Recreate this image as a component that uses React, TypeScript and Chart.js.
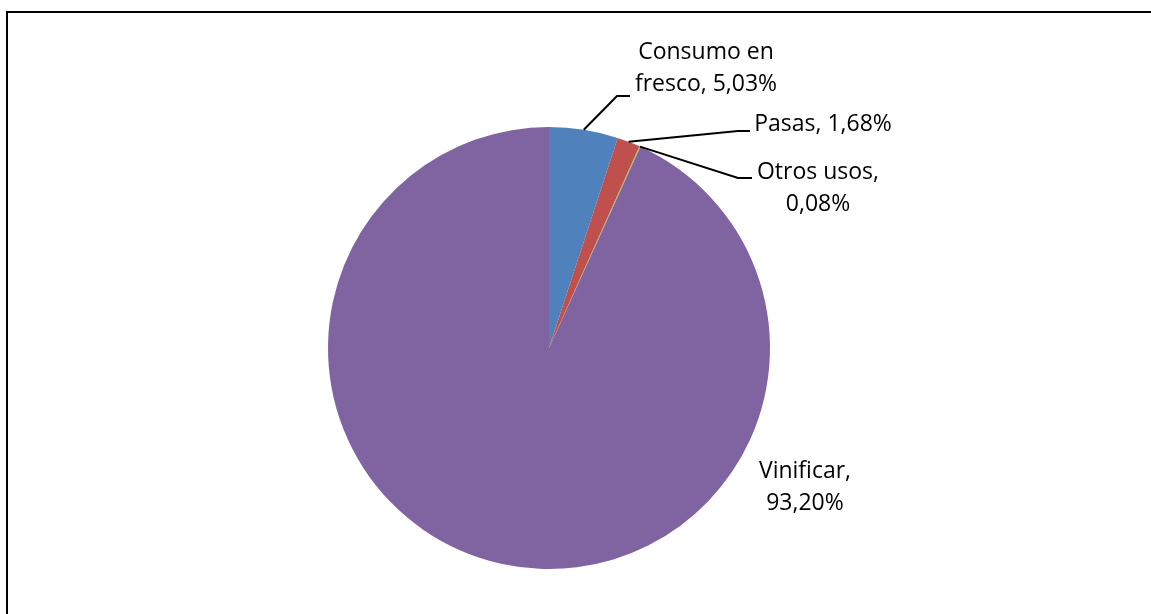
import React, { useEffect, useRef } from "react";
import { Chart, registerables } from "chart.js";

Chart.register(...registerables);

const categories = ["Consumo en fresco", "Pasas", "Otros usos", "Vinificar"];
const shares = [5.03, 1.68, 0.08, 93.2];
const colors = ["#4F81BD", "#C0504D", "#9BBB59", "#8064A2"];

// label layout (pixel positions of text / leader lines), not data
const labelLayout = [
  { cx: 706, baseline: 59, wrap: 155, elbow: [617, 96], end: [630, 96] },
  { cx: 823, baseline: 131, wrap: 400, elbow: [738, 131], end: [750, 131] },
  { cx: 818, baseline: 179, wrap: 145, elbow: [738, 178], end: [752, 178] },
  { cx: 805, baseline: 478, wrap: 125, elbow: null, end: null },
];

const FONT = "23px 'Open Sans'";
const LINE_H = 32;

function fmt(v: number) {
  return v.toFixed(2).replace(".", ",") + "%";
}

function wrapText(ctx: CanvasRenderingContext2D, text: string, maxW: number) {
  const words = text.split(" ");
  const lines: string[] = [];
  let cur = "";
  for (const w of words) {
    const test = cur ? cur + " " + w : w;
    if (ctx.measureText(test).width > maxW && cur) {
      lines.push(cur);
      cur = w;
    } else cur = test;
  }
  if (cur) lines.push(cur);
  return lines;
}

const labelPlugin = {
  id: "pieLabels",
  afterDatasetsDraw(chart: any) {
    const ctx: CanvasRenderingContext2D = chart.ctx;
    const meta = chart.getDatasetMeta(0);
    ctx.save();
    ctx.font = FONT;
    ctx.fillStyle = "#000";
    ctx.strokeStyle = "#000";
    ctx.lineWidth = 2;
    ctx.textAlign = "center";
    ctx.textBaseline = "alphabetic";
    meta.data.forEach((arc: any, i: number) => {
      const lay = labelLayout[i];
      const { x, y, startAngle, endAngle, outerRadius } = arc.getProps(
        ["x", "y", "startAngle", "endAngle", "outerRadius"],
        true
      );
      const mid = (startAngle + endAngle) / 2;
      const ax = x + Math.cos(mid) * outerRadius;
      const ay = y + Math.sin(mid) * outerRadius;
      if (lay.elbow && lay.end) {
        ctx.beginPath();
        ctx.moveTo(ax, ay);
        ctx.lineTo(lay.elbow[0], lay.elbow[1]);
        ctx.lineTo(lay.end[0], lay.end[1]);
        ctx.stroke();
      }
      const text = `${categories[i]}, ${fmt(shares[i])}`;
      const lines = wrapText(ctx, text, lay.wrap);
      lines.forEach((ln, k) => {
        ctx.fillText(ln, lay.cx, lay.baseline + k * LINE_H);
      });
    });
    ctx.restore();
  },
};

export default function App() {
  const ref = useRef<HTMLCanvasElement>(null);
  useEffect(() => {
    if (!ref.current) return;
    const chart = new Chart(ref.current, {
      type: "pie",
      data: {
        labels: categories,
        datasets: [
          {
            data: shares,
            backgroundColor: colors,
            borderWidth: 0,
          },
        ],
      },
      options: {
        animation: false,
        responsive: false,
        maintainAspectRatio: false,
        layout: { padding: { top: 127, bottom: 45, left: 100, right: 153 } },
        plugins: {
          legend: { display: false },
          tooltip: { enabled: false },
        },
      },
      plugins: [labelPlugin],
    });
    return () => chart.destroy();
  }, []);
  return (
    <div
      style={{
        position: "fixed",
        left: 0,
        top: 0,
        width: 1151,
        height: 614,
        background: "#fff",
        overflow: "hidden",
      }}
    >
      <canvas
        ref={ref}
        width={1151}
        height={614}
        style={{ position: "absolute", left: 0, top: 0, width: 1151, height: 614 }}
      />
      <div
        style={{
          position: "absolute",
          left: 6,
          top: 11,
          width: 1300,
          height: 800,
          borderTop: "2px solid #000",
          borderLeft: "2px solid #000",
        }}
      />
    </div>
  );
}
